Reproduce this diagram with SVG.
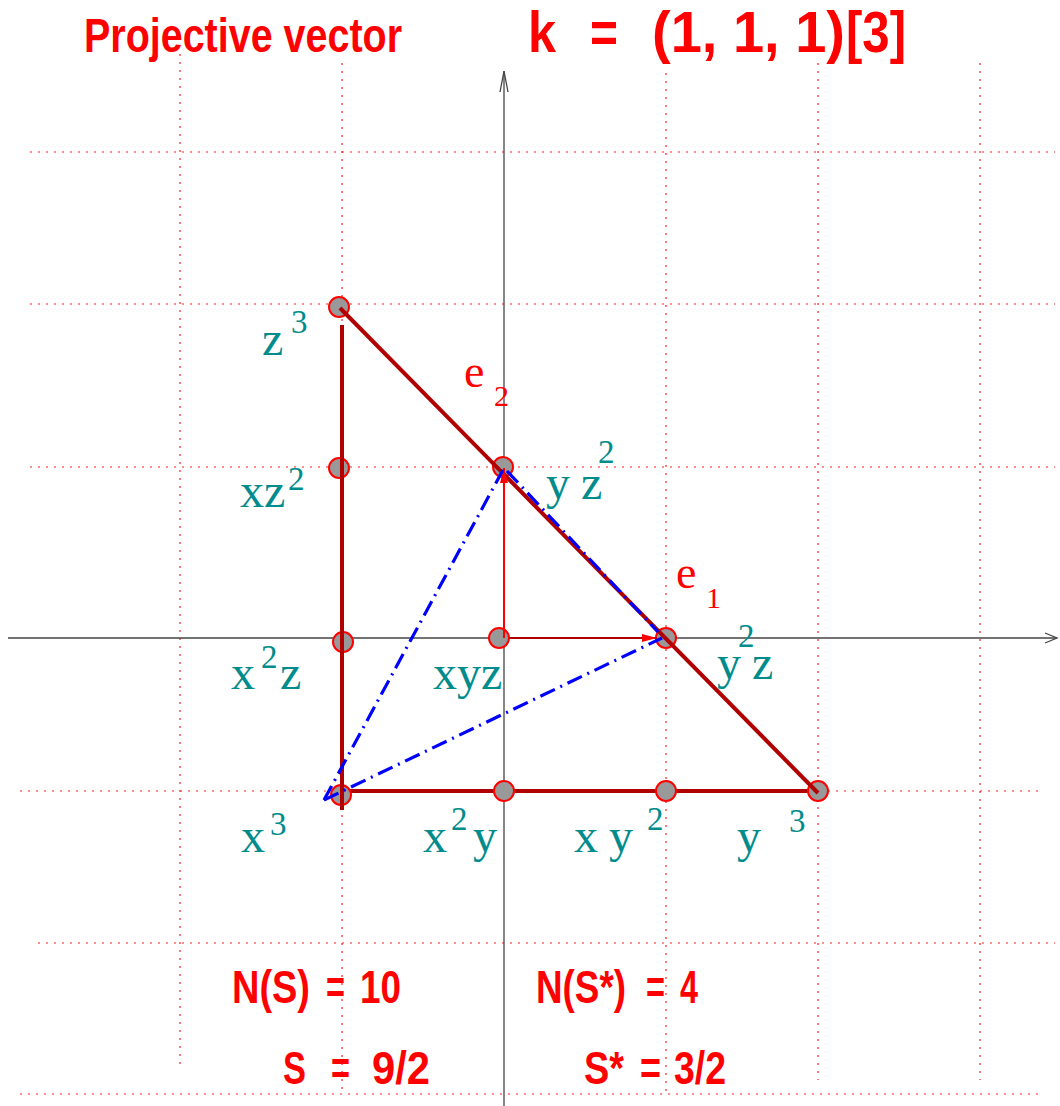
<svg xmlns="http://www.w3.org/2000/svg" width="1060" height="1106" viewBox="0 0 1060 1106">
<defs>
<style>
.grid{stroke:#ff2020;stroke-width:1.2;stroke-dasharray:2 6;fill:none}
.axis{stroke:#444;stroke-width:1.3;fill:none}
.tri{stroke:#b00000;stroke-width:4;fill:none}
.blue{stroke:#0000ff;stroke-width:3.2;fill:none;stroke-dasharray:16 6 2 6}
.node{fill:#999;stroke:#ff0000;stroke-width:2}
.lab{font-family:"Liberation Serif","Times New Roman",serif;fill:#008c8c;font-size:48px}
.sup{font-family:"Liberation Serif","Times New Roman",serif;fill:#008c8c;font-size:33px}
.e{font-family:"Liberation Serif","Times New Roman",serif;fill:#ff0000;font-size:46px}
.es{font-family:"Liberation Serif","Times New Roman",serif;fill:#ff0000;font-size:30px}
.big{font-family:"Liberation Sans",Arial,sans-serif;font-weight:bold;fill:#ff0000}
</style>
<marker id="arr" markerWidth="16" markerHeight="10" refX="15" refY="5" orient="auto" markerUnits="userSpaceOnUse">
<path d="M0,1 L15,5 L0,9 Z" fill="#ff0000"/>
</marker>
</defs>
<rect width="1060" height="1106" fill="#fff"/>
<g id="grid">
<line class="grid" x1="30" y1="152" x2="1055" y2="152"/>
<line class="grid" x1="30" y1="304" x2="1055" y2="304"/>
<line class="grid" x1="30" y1="467" x2="1055" y2="467"/>
<line class="grid" x1="20" y1="791" x2="1040" y2="791"/>
<line class="grid" x1="38" y1="943" x2="1055" y2="943"/>
<line class="grid" x1="20" y1="1094" x2="1040" y2="1094"/>
<line class="grid" x1="180" y1="54" x2="180" y2="1065"/>
<line class="grid" x1="342" y1="63" x2="342" y2="1092"/>
<line class="grid" x1="666" y1="73" x2="666" y2="1096"/>
<line class="grid" x1="818" y1="63" x2="818" y2="1080"/>
<line class="grid" x1="980" y1="63" x2="980" y2="1080"/>
</g>
<g id="axes">
<line class="axis" x1="504" y1="71" x2="504" y2="1106"/>
<path class="axis" d="M500,92 L504,71 L508,92"/>
<line class="axis" x1="8" y1="638" x2="1057" y2="638"/>
<path class="axis" d="M1045,633 L1057,638 L1045,643"/>
</g>
<g id="connectors">
<line class="tri" x1="342" y1="791" x2="818" y2="791"/>
</g>
<g id="node-z3"><circle class="node" cx="339" cy="307" r="10"/></g>
<g id="node-xz2"><circle class="node" cx="339" cy="468" r="10"/></g>
<g id="node-x2z"><circle class="node" cx="343" cy="642" r="10"/></g>
<g id="node-x3"><circle class="node" cx="341" cy="795" r="10"/></g>
<g id="node-yz2"><circle class="node" cx="503" cy="467" r="10"/></g>
<g id="node-xyz"><circle class="node" cx="499" cy="638" r="10"/></g>
<g id="node-x2y"><circle class="node" cx="504" cy="791" r="10"/></g>
<g id="node-y2z"><circle class="node" cx="666" cy="638" r="10"/></g>
<g id="node-xy2"><circle class="node" cx="666" cy="791" r="10"/></g>
<g id="node-y3"><circle class="node" cx="818" cy="791" r="10"/></g>
<g id="edges">
<line class="tri" x1="342" y1="325" x2="342" y2="810"/>
<line class="tri" x1="340" y1="308" x2="818" y2="793"/>
<line x1="504" y1="638" x2="504" y2="468" stroke="#ff0000" stroke-width="2" marker-end="url(#arr)"/>
<line x1="509" y1="638" x2="657" y2="638" stroke="#b00000" stroke-width="2" marker-end="url(#arr)"/>
<line class="blue" x1="324" y1="800" x2="503" y2="470"/>
<line class="blue" x1="324" y1="800" x2="662" y2="638"/>
<line class="blue" x1="507" y1="471" x2="658" y2="632"/>
</g>
<g id="labels">
<text class="lab" x="262" y="355">z</text><text class="sup" x="291" y="333">3</text>
<text class="lab" x="240" y="507">xz</text><text class="sup" x="288" y="490">2</text>
<text class="lab" x="231" y="689">x</text><text class="sup" x="261" y="668">2</text><text class="lab" x="280" y="689">z</text>
<text class="lab" x="433" y="689">xyz</text>
<text class="lab" x="241" y="852">x</text><text class="sup" x="270" y="835">3</text>
<text class="lab" x="423" y="852">x</text><text class="sup" x="451" y="830">2</text><text class="lab" x="473" y="852">y</text>
<text class="lab" x="574" y="852">x</text><text class="lab" x="609" y="852">y</text><text class="sup" x="647" y="830">2</text>
<text class="lab" x="737" y="852">y</text><text class="sup" x="789" y="832">3</text>
<text class="lab" x="717" y="679">y</text><text class="sup" x="738" y="647">2</text><text class="lab" x="752" y="679">z</text>
<text class="lab" x="546" y="499">y</text><text class="lab" x="581" y="499">z</text><text class="sup" x="598" y="463">2</text>
<text class="e" x="464" y="387">e</text><text class="es" x="494" y="406">2</text>
<text class="e" x="676" y="588">e</text><text class="es" x="706" y="608">1</text>
</g>
<g id="title">
<text class="big" x="84" y="52" font-size="49" textLength="318" lengthAdjust="spacingAndGlyphs">Projective vector</text>
<text class="big" x="528" y="52" font-size="58" textLength="28" lengthAdjust="spacingAndGlyphs">k</text>
<text class="big" x="590" y="52" font-size="58" textLength="28" lengthAdjust="spacingAndGlyphs">=</text>
<text class="big" x="652" y="52" font-size="58" textLength="193" lengthAdjust="spacingAndGlyphs">(1, 1, 1)</text>
<text class="big" x="846" y="52" font-size="58" textLength="60" lengthAdjust="spacingAndGlyphs">[3]</text>
</g>
<g id="results">
<text class="big" x="232" y="1003" font-size="46" textLength="78" lengthAdjust="spacingAndGlyphs">N(S)</text>
<text class="big" x="326" y="1003" font-size="46" textLength="19" lengthAdjust="spacingAndGlyphs">=</text>
<text class="big" x="360" y="1003" font-size="46" textLength="41" lengthAdjust="spacingAndGlyphs">10</text>
<text class="big" x="536" y="1003" font-size="46" textLength="90" lengthAdjust="spacingAndGlyphs">N(S*)</text>
<text class="big" x="646" y="1003" font-size="46" textLength="19" lengthAdjust="spacingAndGlyphs">=</text>
<text class="big" x="680" y="1003" font-size="46" textLength="18" lengthAdjust="spacingAndGlyphs">4</text>
<text class="big" x="283" y="1084" font-size="46" textLength="23" lengthAdjust="spacingAndGlyphs">S</text>
<text class="big" x="331" y="1084" font-size="46" textLength="19" lengthAdjust="spacingAndGlyphs">=</text>
<text class="big" x="372" y="1084" font-size="46" textLength="58" lengthAdjust="spacingAndGlyphs">9/2</text>
<text class="big" x="584" y="1084" font-size="46" textLength="40" lengthAdjust="spacingAndGlyphs">S*</text>
<text class="big" x="640" y="1084" font-size="46" textLength="21" lengthAdjust="spacingAndGlyphs">=</text>
<text class="big" x="674" y="1084" font-size="46" textLength="52" lengthAdjust="spacingAndGlyphs">3/2</text>
</g>
</svg>
